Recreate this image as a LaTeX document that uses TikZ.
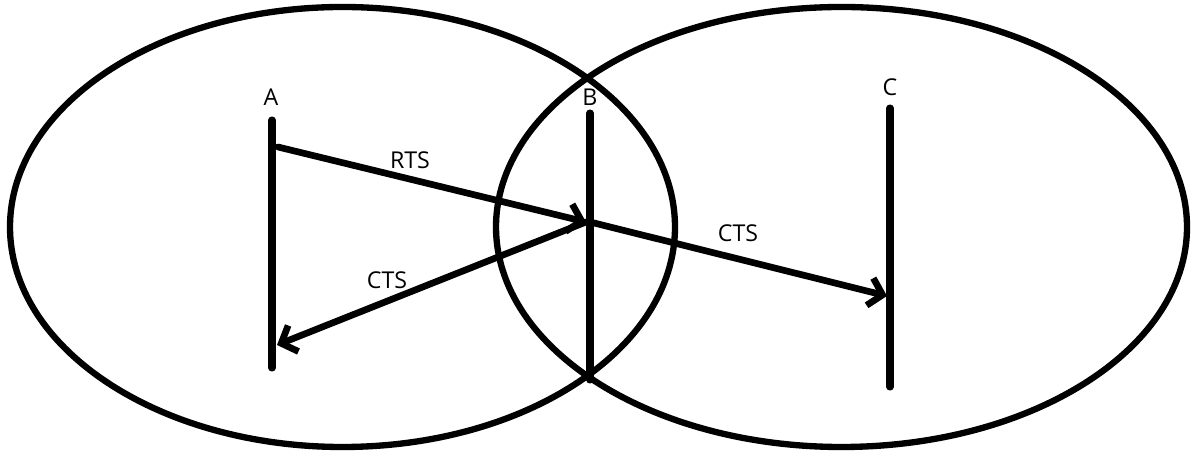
\documentclass[tikz,border=0pt]{standalone}
\usepackage{fontspec}
\setmainfont{Open Sans}
\usetikzlibrary{arrows.meta,positioning}

\begin{document}
\begin{tikzpicture}[>={Straight Barb[length=1.3mm,width=2.8mm]},
    cover/.style={line width=1.8pt},
    station/.style={line width=2pt, line cap=round},
    msg/.style={->, line width=1.9pt, line cap=round},
    lbl/.style={font=\fontsize{6.6}{8}\selectfont, inner sep=0pt}]

    \useasboundingbox (0,0) rectangle (11.92,-4.54);

    % Radio ranges
    \draw[cover] (3.425,-2.27) ellipse [x radius=3.325, y radius=2.2];
    \draw[cover] (8.415,-2.27) ellipse [x radius=3.455, y radius=2.2];

    % Stations
    \foreach \n/\x/\t/\b in {A/2.72/1.20/3.68, B/5.90/1.13/3.80, C/8.90/1.08/3.87} {
        \coordinate (\n top) at (\x,-\t);
        \coordinate (\n bot) at (\x,-\b);
        \draw[station] (\n top) -- (\n bot);
    }
    \node[lbl] (A) at (2.71,-0.97) {A};
    \node[lbl] (B) at (5.90,-0.97) {B};
    \node[lbl] (C) at (8.90,-0.87) {C};

    % Message end points
    \coordinate (A rts) at (2.78,-1.47);
    \coordinate (B hit) at (5.86,-2.22);
    \coordinate (B out) at (5.90,-2.22);
    \coordinate (A cts) at (2.77,-3.45);
    \coordinate (C cts) at (8.87,-2.96);

    % Messages
    \draw[msg] (A rts) -- (B hit);
    \draw[msg] (B hit) -- (A cts);
    \draw[msg] (B out) -- (C cts);

    \node[lbl] (rts) at (4.10,-1.60) {RTS};
    \node[lbl] (cts1) at (3.87,-2.80) {CTS};
    \node[lbl] (cts2) at (7.38,-2.33) {CTS};

\end{tikzpicture}
\end{document}
